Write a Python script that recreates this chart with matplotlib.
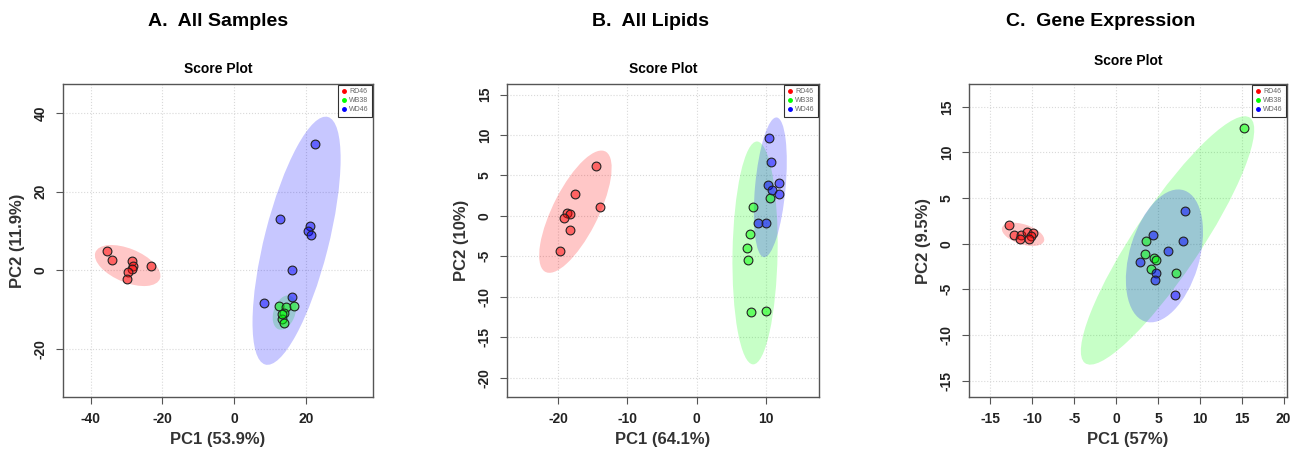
import numpy as np
import matplotlib
matplotlib.use('Agg')
import matplotlib.pyplot as plt
from matplotlib.patches import Ellipse

plt.rcParams['font.family'] = ['Liberation Sans', 'DejaVu Sans']
plt.rcParams['axes.unicode_minus'] = False

groups = ['RD46', 'WB38', 'WD46']
colors = ['#ff0000', '#00ff00', '#0000ff']

# A. All Samples
a_rd_x = [-35.3, -34.1, -28.5, -28.3, -28.6, -29.6, -29.8, -23.2]
a_rd_y = [5.0, 2.6, 2.3, 1.1, 0.4, -0.4, -2.1, 1.1]
a_wb_x = [12.5, 14.4, 16.7, 13.9, 13.2, 14.0, 13.4]
a_wb_y = [-8.9, -9.2, -8.9, -10.9, -12.4, -13.4, -11.0]
a_wd_x = [22.5, 12.7, 21.2, 20.7, 21.5, 16.2, 16.1, 8.3]
a_wd_y = [32.0, 13.0, 11.4, 9.9, 8.9, 0.0, -6.7, -8.2]

# B. All Lipids
b_rd_x = [-14.5, -17.6, -13.9, -18.7, -18.3, -19.1, -18.3, -19.7]
b_rd_y = [6.2, 2.7, 1.1, 0.3, 0.2, -0.3, -1.8, -4.3]
b_wb_x = [8.2, 10.6, 7.7, 7.3, 7.4, 7.9, 10.1]
b_wb_y = [1.1, 2.2, -2.3, -4.0, -5.4, -11.9, -11.8]
b_wd_x = [10.5, 10.7, 10.4, 11.9, 10.9, 11.9, 8.9, 10.1]
b_wd_y = [9.6, 6.7, 3.8, 4.0, 3.2, 2.7, -0.9, -0.9]

# C. Gene Expression
c_rd_x = [-12.8, -12.2, -11.3, -11.5, -10.6, -9.9, -10.1, -10.4]
c_rd_y = [2.1, 0.9, 0.9, 0.5, 1.3, 1.2, 0.8, 0.5]
c_wb_x = [15.3, 3.6, 3.4, 4.5, 4.8, 4.2, 7.2]
c_wb_y = [12.7, 0.3, -1.1, -1.6, -1.8, -2.8, -3.2]
c_wd_x = [8.2, 4.4, 8.0, 6.2, 2.9, 4.8, 4.7, 7.0]
c_wd_y = [3.6, 1.0, 0.3, -0.8, -2.0, -3.2, -4.0, -5.6]

panels = [
    ('A.  All Samples', 'PC1 (53.9%)', 'PC2 (11.9%)',
     [(a_rd_x, a_rd_y), (a_wb_x, a_wb_y), (a_wd_x, a_wd_y)],
     [-40, -20, 0, 20], [-20, 0, 20, 40], (-47.7, 38.7), (-32.1, 47.3)),
    ('B.  All Lipids', 'PC1 (64.1%)', 'PC2 (10%)',
     [(b_rd_x, b_rd_y), (b_wb_x, b_wb_y), (b_wd_x, b_wd_y)],
     [-20, -10, 0, 10], [-20, -15, -10, -5, 0, 5, 10, 15], (-27.4, 17.7), (-22.4, 16.3)),
    ('C.  Gene Expression', 'PC1 (57%)', 'PC2 (9.5%)',
     [(c_rd_x, c_rd_y), (c_wb_x, c_wb_y), (c_wd_x, c_wd_y)],
     [-15, -10, -5, 0, 5, 10, 15, 20], [-15, -10, -5, 0, 5, 10, 15], (-17.55, 20.4), (-16.8, 17.5)),
]

lefts = [63, 507, 969]
widths = [310, 312, 318]
title_x = [218, 650, 1101]
sub_pad = [8, 8, 14]


def conf_ellipse(ax, x, y, color):
    # 95% data ellipse, like the MetaboAnalyst score plots
    x = np.asarray(x)
    y = np.asarray(y)
    cov = np.cov(x, y)
    vals, vecs = np.linalg.eigh(cov)
    order = vals.argsort()[::-1]
    vals, vecs = vals[order], vecs[:, order]
    angle = np.degrees(np.arctan2(vecs[1, 0], vecs[0, 0]))
    k = 2.4477
    w, h = 2 * k * np.sqrt(vals)
    e = Ellipse((x.mean(), y.mean()), w, h, angle=angle,
                facecolor=color, alpha=0.22, edgecolor='none', zorder=1)
    ax.add_patch(e)


W, H = 1298, 450
fig = plt.figure(figsize=(W / 100, H / 100), dpi=100)

for i, (title, xl, yl, data, xt, yt, xlim, ylim) in enumerate(panels):
    ax = fig.add_axes([lefts[i] / W, 1 - 397 / H, widths[i] / W, 313 / H])
    for (x, y), c in zip(data, colors):
        conf_ellipse(ax, x, y, c)
    for (x, y), c, g in zip(data, colors, groups):
        ax.scatter(x, y, s=40, facecolor=matplotlib.colors.to_rgba(c, 0.5),
                   edgecolor='#222222', linewidth=0.8, zorder=3)
        ax.plot([], [], 'o', color=c, markersize=2.5, label=g)
    ax.set_xlim(xlim)
    ax.set_ylim(ylim)
    ax.set_xticks(xt)
    ax.set_yticks(yt)
    ax.grid(True, color='#d9d9d9', linestyle=':', linewidth=0.8, zorder=0)
    ax.set_axisbelow(True)
    for s in ax.spines.values():
        s.set_color('#555555')
        s.set_linewidth(1.0)
    ax.tick_params(direction='out', length=5, width=0.8, color='#555555',
                   labelsize=10, pad=6)
    for lab in ax.get_xticklabels() + ax.get_yticklabels():
        lab.set_fontweight('bold')
        lab.set_color('#222222')
    plt.setp(ax.get_yticklabels(), rotation=90, va='center')
    ax.set_xlabel(xl, fontsize=12, fontweight='bold', color='#333333', labelpad=4)
    ax.set_ylabel(yl, fontsize=12, fontweight='bold', color='#333333', labelpad=6)
    ax.set_title('Score Plot', fontsize=10, fontweight='bold', pad=sub_pad[i])
    leg = ax.legend(loc='upper right', fontsize=5, frameon=True, fancybox=False,
                    borderaxespad=0.1, handlelength=0.6, handletextpad=0.5,
                    labelspacing=0.3, borderpad=0.5)
    leg.get_frame().set_edgecolor('black')
    leg.get_frame().set_linewidth(0.8)
    for t in leg.get_texts():
        t.set_color('#666666')
    fig.text(title_x[i] / W, 1 - 22 / H, title, fontsize=14, fontweight='bold',
             ha='center', va='center')

fig.savefig('out.png', dpi=100)
